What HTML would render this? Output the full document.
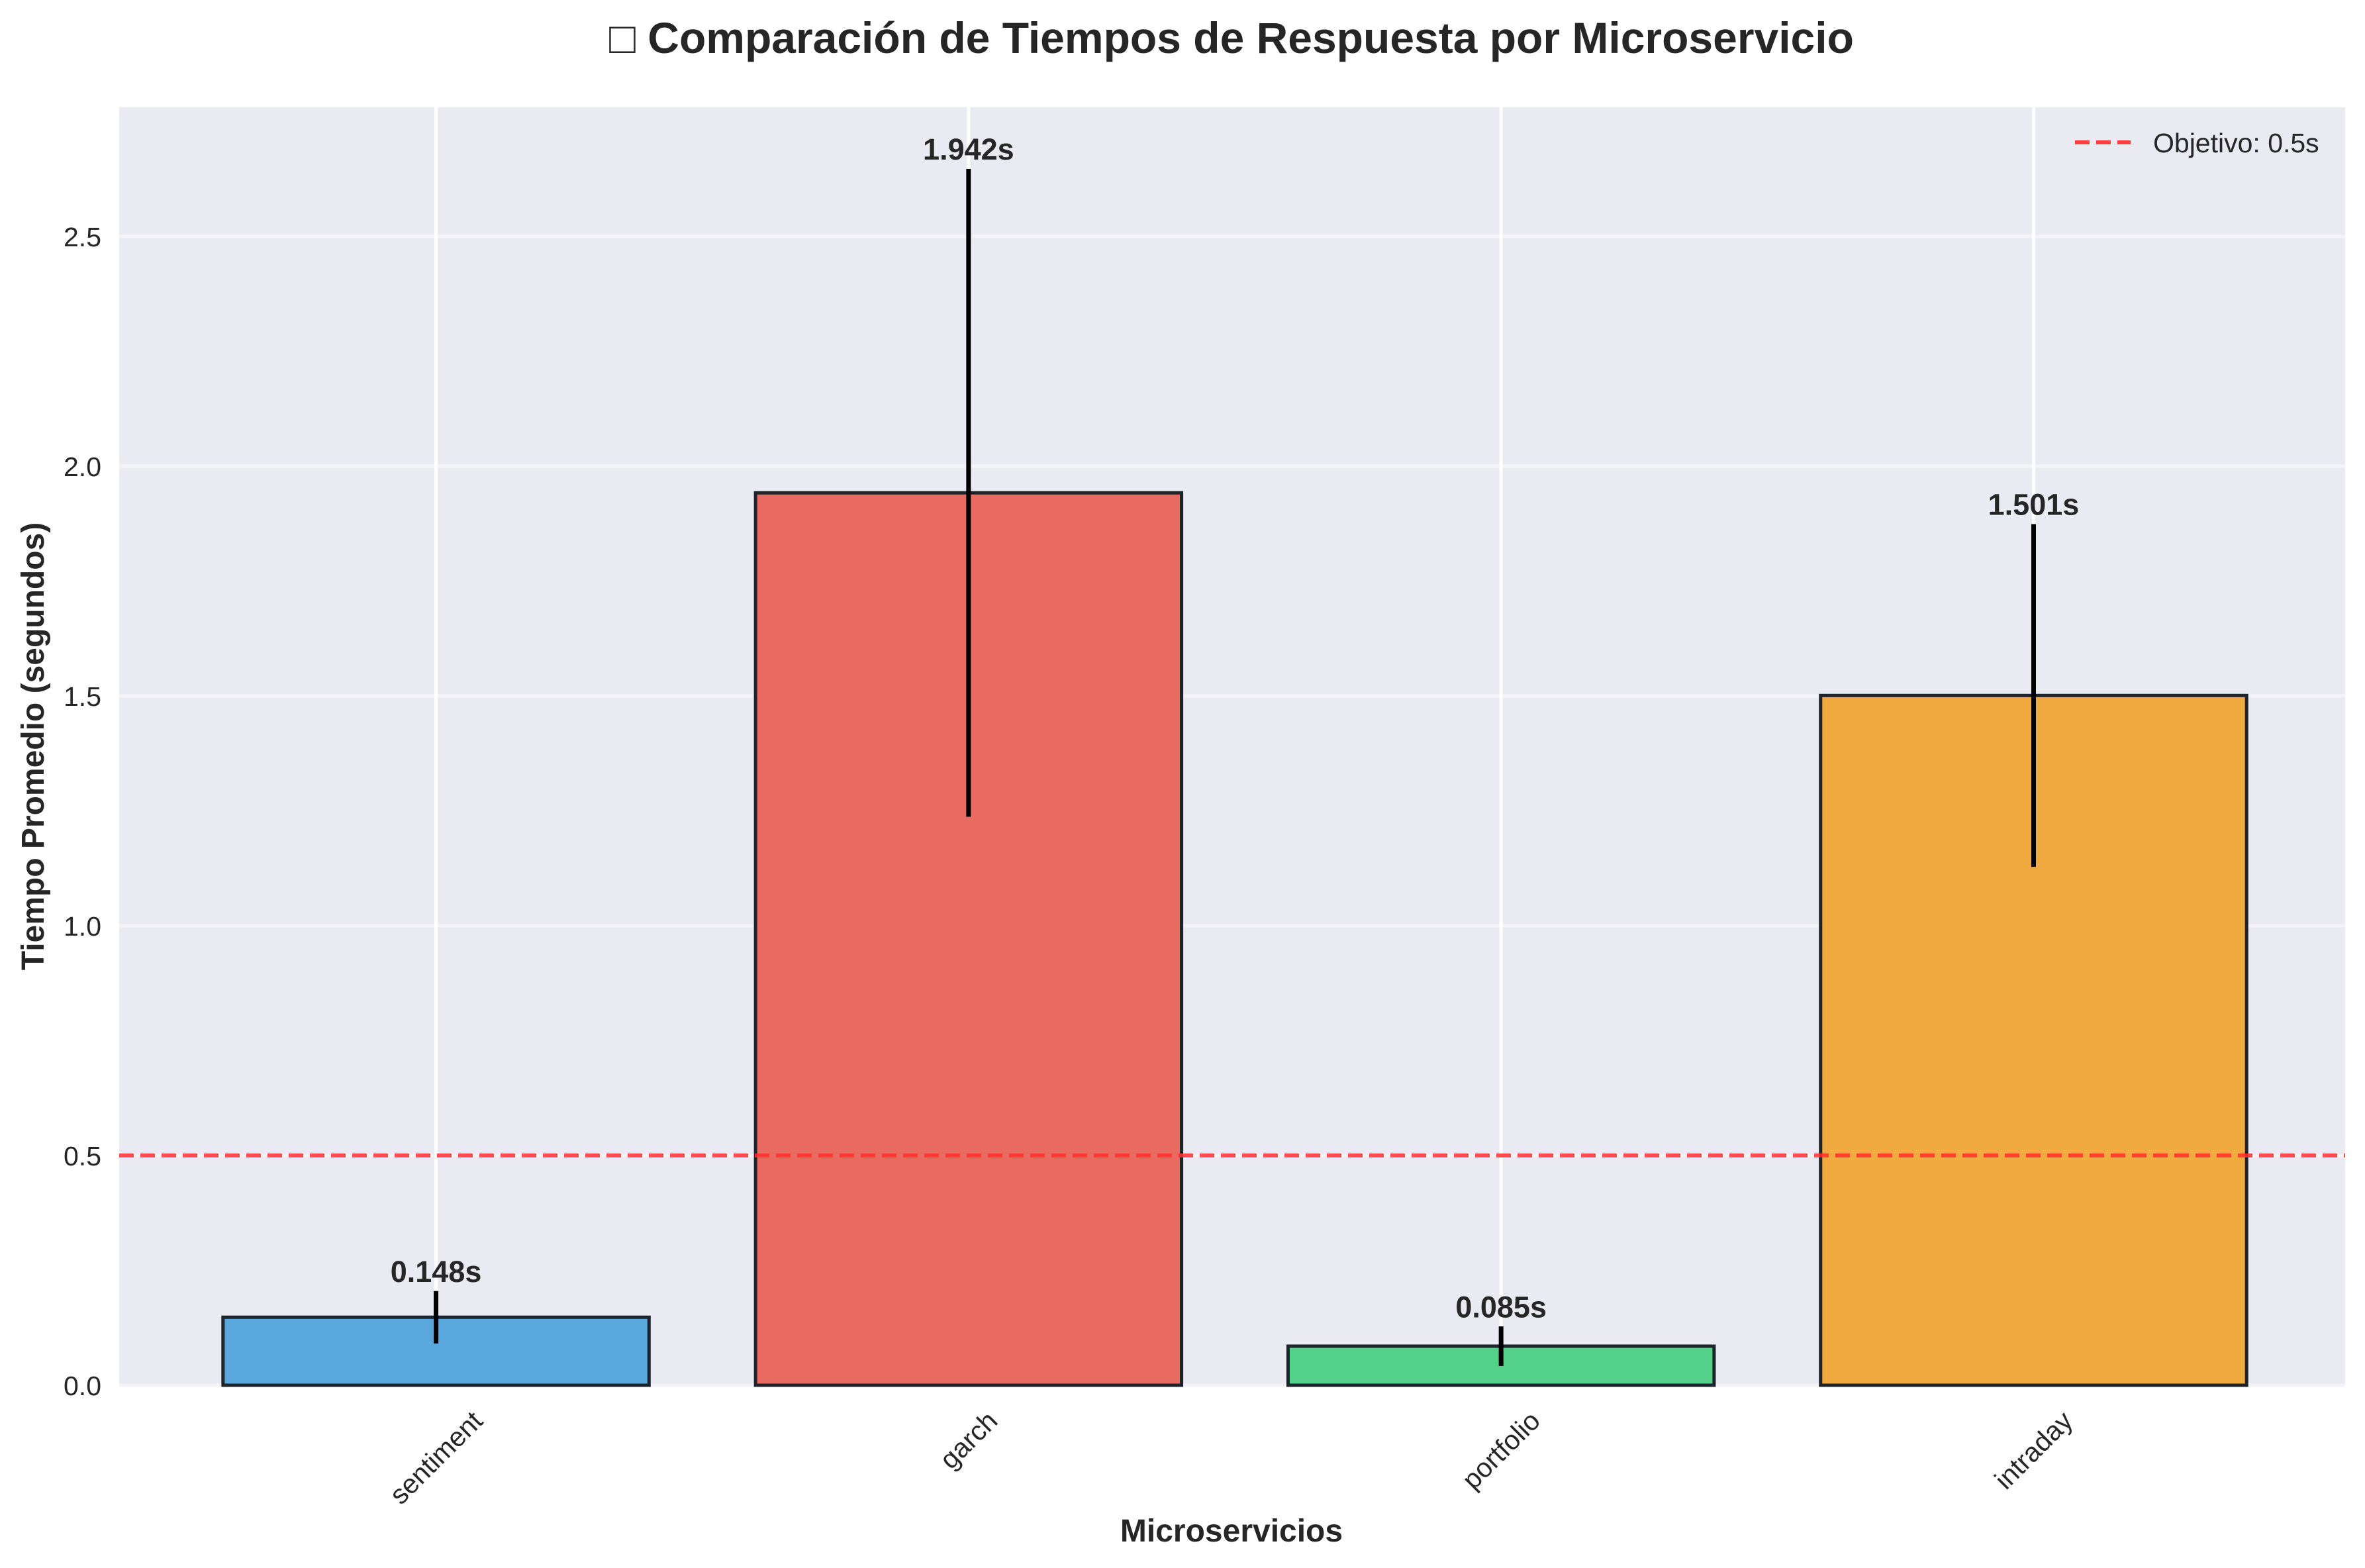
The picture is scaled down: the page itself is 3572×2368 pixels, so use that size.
<!DOCTYPE html>
<html><head><meta charset="utf-8"><style>
html,body{margin:0;padding:0;background:#fff;}
svg{display:block;font-family:"Liberation Sans","DejaVu Sans",sans-serif;}
</style></head><body>
<svg id="chart" width="3572" height="2368" viewBox="0 0 3572 2368" xmlns="http://www.w3.org/2000/svg">
<rect x="0" y="0" width="3572" height="2368" fill="#ffffff"/>
<text x="1860" y="80" font-size="66" font-weight="bold" fill="#262626" text-anchor="middle">□ Comparación de Tiempos de Respuesta por Microservicio</text>
<rect x="180" y="162" width="3362" height="1930" fill="#eaeaf2"/>
<g id="grid"></g>
<g id="bars"></g>
<g id="overlay"></g>
<text x="1860" y="2328" font-size="48" font-weight="bold" fill="#262626" text-anchor="middle">Microservicios</text>
<text transform="translate(66,1127) rotate(-90)" font-size="48" font-weight="bold" fill="#262626" text-anchor="middle">Tiempo Promedio (segundos)</text>
<g>
<line x1="3134" y1="215" x2="3218" y2="215" stroke="#ff4040" stroke-width="6" stroke-dasharray="22,10"/>
<text x="3252" y="230" font-size="41" fill="#262626">Objetivo: 0.5s</text>
</g>
</svg>
<script>
const categories = ["sentiment", "garch", "portfolio", "intraday"];
const values = [0.148, 1.942, 0.085, 1.501];
const errors = [0.057, 0.705, 0.043, 0.373];
const valueLabels = ["0.148s", "1.942s", "0.085s", "1.501s"];
const yTicks = [0.0, 0.5, 1.0, 1.5, 2.0, 2.5];
const yTickLabels = ["0.0", "0.5", "1.0", "1.5", "2.0", "2.5"];
const targetValue = 0.5;
const colors = ["#5aa7dd", "#e86a60", "#53d18a", "#f1aa3f"];

const NS = "http://www.w3.org/2000/svg";
const plotLeft = 180, plotRight = 3542, plotTop = 162, plotBottom = 2092;
const yMax = 2.781, xMin = -0.595, xMax = 3.585;
function xScale(i){ return plotLeft + (i - xMin) / (xMax - xMin) * (plotRight - plotLeft); }
function yScale(v){ return plotBottom - v / yMax * (plotBottom - plotTop); }
function mk(tag, attrs, parent){
  const el = document.createElementNS(NS, tag);
  for (const k in attrs) el.setAttribute(k, attrs[k]);
  parent.appendChild(el);
  return el;
}
const grid = document.getElementById("grid");
const barsG = document.getElementById("bars");
const overlay = document.getElementById("overlay");
const svgEl = document.getElementById("chart");

yTicks.forEach((t, i) => {
  const y = yScale(t);
  const gl = mk("line", {x1: plotLeft, x2: plotRight, y1: y, y2: y, stroke: "#f4f4f8", "stroke-width": 5}, grid);
  
  
  const tl = mk("text", {x: 153, y: y + 15, "font-size": 41, fill: "#262626", "text-anchor": "end"}, svgEl);
  tl.textContent = yTickLabels[i];
  
  
});
categories.forEach((c, i) => {
  const x = xScale(i);
  const gl = mk("line", {x1: x, x2: x, y1: plotTop, y2: plotBottom, stroke: "#ffffff", "stroke-width": 5}, grid);
  
  
});
const bw = 0.8 / (xMax - xMin) * (plotRight - plotLeft);
categories.forEach((c, i) => {
  const x = xScale(i);
  const bar = mk("rect", {x: x - bw/2, y: yScale(values[i]), width: bw, height: yScale(0) - yScale(values[i]), fill: colors[i], stroke: "#1c232a", "stroke-width": 5}, barsG);
  
  
  const eb = mk("line", {x1: x, x2: x, y1: yScale(values[i] + errors[i]), y2: yScale(values[i] - errors[i]), stroke: "#000", "stroke-width": 7}, overlay);
  
  
  const lbl = mk("text", {x: x, y: yScale(values[i] + errors[i] + 0.02), "font-size": 45, "font-weight": "bold", fill: "#262626", "text-anchor": "middle"}, overlay);
  lbl.textContent = valueLabels[i];
  
  
  const tk = mk("text", {"font-size": 41, fill: "#262626", "text-anchor": "middle"}, svgEl);
  tk.textContent = c;
  
  
  let w = 0;
  try { w = tk.getComputedTextLength(); } catch (e) { w = c.length * 20; }
  const half = (w + 41) * Math.SQRT1_2 / 2;
  const cy = 2124 + half;
  tk.setAttribute("x", x); tk.setAttribute("y", cy + 14);
  tk.setAttribute("transform", "rotate(-45 " + x + " " + cy + ")");
});
const tgt = mk("line", {x1: plotLeft, x2: plotRight, y1: yScale(targetValue), y2: yScale(targetValue), stroke: "#ff3030", "stroke-opacity": 0.85, "stroke-width": 6, "stroke-dasharray": "22,10"}, overlay);


</script>
</body></html>
